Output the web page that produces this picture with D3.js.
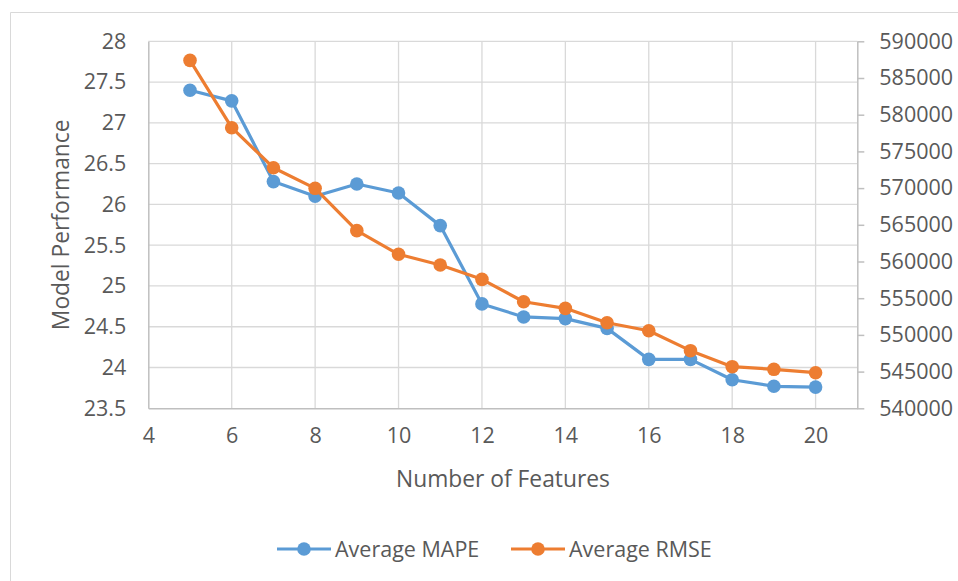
<!DOCTYPE html>
<html>
<head>
<meta charset="utf-8">
<script src="https://cdn.jsdelivr.net/npm/d3@7"></script>
<style>
  body { margin: 0; background: #fff; }
  text { font-family: "Open Sans", sans-serif; fill: #595959; }
</style>
</head>
<body>
<svg id="chart" width="958" height="581"></svg>
<script>
const features = [5, 6, 7, 8, 9, 10, 11, 12, 13, 14, 15, 16, 17, 18, 19, 20];
const mape = [27.40, 27.27, 26.28, 26.10, 26.25, 26.14, 25.74, 24.78, 24.62, 24.60, 24.48, 24.10, 24.10, 23.85, 23.77, 23.76];
const rmse = [587400, 578230, 572780, 569970, 564200, 560980, 559520, 557570, 554520, 553620, 551660, 550570, 547850, 545670, 545310, 544850];
const xTicks = [4, 6, 8, 10, 12, 14, 16, 18, 20];
const leftTicks = [23.5, 24, 24.5, 25, 25.5, 26, 26.5, 27, 27.5, 28];
const rightTicks = [540000, 545000, 550000, 555000, 560000, 565000, 570000, 575000, 580000, 585000, 590000];
const seriesNames = ["Average MAPE", "Average RMSE"];
const colors = ["#5B9BD5", "#ED7D31"];

const svg = d3.select("#chart");
const L = 148.3, R = 857.3, T = 41.3, B = 408.3;
const tickFont = "21.5px", titleFont = "22.8px";

const x = d3.scaleLinear().domain([4, 21]).range([L, R]);
const yL = d3.scaleLinear().domain([23.5, 28]).range([B, T]);
const yR = d3.scaleLinear().domain([540000, 590000]).range([B, T]);

// outer frame (top and left edges visible)
svg.append("path").attr("d", "M10.5,581 L10.5,12.5 L958,12.5")
  .attr("fill", "none").attr("stroke", "#d9d9d9").attr("stroke-width", 1);

// gridlines
const grid = svg.append("g");
grid.selectAll("line.h").data(leftTicks.slice(1)).join("line")
  .attr("x1", L).attr("x2", R).attr("y1", d => yL(d)).attr("y2", d => yL(d))
  .attr("stroke", "#d9d9d9").attr("stroke-width", 1.3);
grid.selectAll("line.v").data(xTicks.slice(1)).join("line")
  .attr("x1", d => x(d)).attr("x2", d => x(d)).attr("y1", T).attr("y2", B)
  .attr("stroke", "#d9d9d9").attr("stroke-width", 1.3);

// axes
const xAxis = svg.append("g").attr("transform", `translate(0,${B})`)
  .call(d3.axisBottom(x).tickValues(xTicks).tickSize(0).tickPadding(19));
xAxis.select(".domain").attr("stroke", "#bfbfbf").attr("stroke-width", 1.5);
xAxis.selectAll("text").style("font-size", tickFont).attr("fill", "#595959").attr("dy", "0.71em");

const yAxisL = svg.append("g").attr("transform", `translate(${L},0)`)
  .call(d3.axisLeft(yL).tickValues(leftTicks).tickSize(0).tickPadding(22).tickFormat(d => d3.format("")(d)));
yAxisL.select(".domain").attr("stroke", "#bfbfbf").attr("stroke-width", 1.5);
yAxisL.selectAll("text").style("font-size", tickFont).attr("fill", "#595959");

const yAxisR = svg.append("g").attr("transform", `translate(${R},0)`)
  .call(d3.axisRight(yR).tickValues(rightTicks).tickSize(7).tickSizeOuter(0).tickPadding(15).tickFormat(d3.format("d")));
yAxisR.select(".domain").attr("stroke", "#bfbfbf").attr("stroke-width", 1.5);
yAxisR.selectAll("line").attr("stroke", "#bfbfbf").attr("stroke-width", 1.5);
yAxisR.selectAll("text").style("font-size", tickFont).attr("fill", "#595959");

// titles
svg.append("text").attr("x", 503).attr("y", 479).attr("dy", "0.35em").attr("text-anchor", "middle")
  .style("font-size", titleFont).text("Number of Features");
svg.append("text").attr("transform", `translate(61,${(T + B) / 2}) rotate(-90)`).attr("dy", "0.35em").attr("text-anchor", "middle")
  .style("font-size", titleFont).text("Model Performance");

// series
const data = [
  features.map((f, i) => ({ x: f, y: yL(mape[i]) })),
  features.map((f, i) => ({ x: f, y: yR(rmse[i]) }))
];
const line = d3.line().x(d => x(d.x)).y(d => d.y);
data.forEach((pts, s) => {
  const g = svg.append("g");
  g.append("path").datum(pts).attr("d", line).attr("fill", "none")
    .attr("stroke", colors[s]).attr("stroke-width", 3.2).attr("stroke-linejoin", "round");
  g.selectAll("circle").data(pts).join("circle")
    .attr("cx", d => x(d.x)).attr("cy", d => d.y).attr("r", 6.8).attr("fill", colors[s]);
});

// legend
const legendItems = [{ x0: 277, label: seriesNames[0] }, { x0: 511, label: seriesNames[1] }];
const ly = 549;
legendItems.forEach((it, i) => {
  const g = svg.append("g");
  g.append("line").attr("x1", it.x0).attr("x2", it.x0 + 54).attr("y1", ly).attr("y2", ly)
    .attr("stroke", colors[i]).attr("stroke-width", 3.2);
  g.append("circle").attr("cx", it.x0 + 27).attr("cy", ly).attr("r", 6.8).attr("fill", colors[i]);
  g.append("text").attr("x", it.x0 + 58).attr("y", ly).attr("dy", "0.35em")
    .style("font-size", tickFont).text(it.label);
});
</script>
</body>
</html>
